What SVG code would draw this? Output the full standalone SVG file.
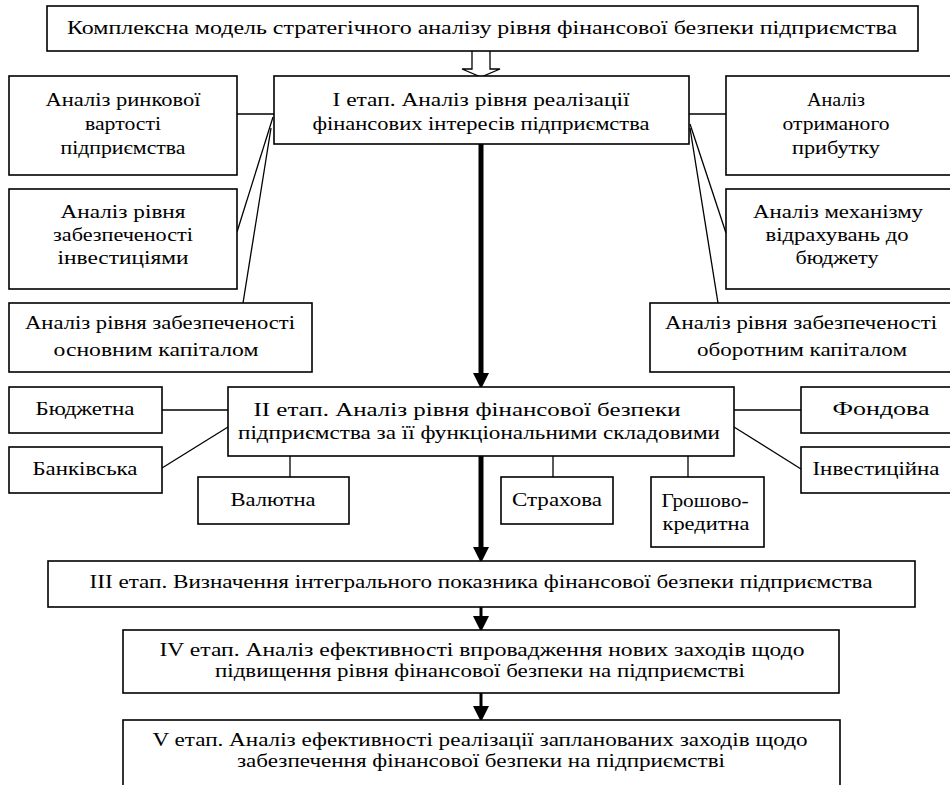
<svg xmlns="http://www.w3.org/2000/svg" width="950" height="785" viewBox="0 0 950 785">
<style>
rect.b{fill:#fff;stroke:#000;stroke-width:1.6}
text{font-family:"Liberation Serif","Times New Roman",serif;font-size:18px;fill:#000;text-anchor:middle}
.c{stroke:#000;stroke-width:1.3;fill:none}
.t{stroke:#000;stroke-width:5;fill:none}
.m{stroke:#000;stroke-width:3;fill:none}
</style>
<defs>
<marker id="ah" viewBox="0 0 16 16" markerWidth="16" markerHeight="16" refX="4" refY="8" orient="auto" markerUnits="userSpaceOnUse">
<path d="M0,0 L16,8 L0,16 z" fill="#000"/>
</marker>
</defs>
<rect width="950" height="785" fill="#fff"/>
<g id="connectors">
<polygon points="472,50 472,69 462,69 481,77 500,69 490,69 490,50" fill="#fff" stroke="#000" stroke-width="1.3"/>
<line class="c" x1="237" y1="114" x2="274" y2="114"/>
<line class="c" x1="689" y1="114" x2="726" y2="114"/>
<line class="c" x1="273" y1="117" x2="237" y2="232"/>
<line class="c" x1="271" y1="128" x2="243" y2="303"/>
<line class="c" x1="690" y1="124" x2="726" y2="233"/>
<line class="c" x1="690" y1="128" x2="718" y2="303"/>
<line class="c" x1="162" y1="410" x2="228" y2="410"/>
<line class="c" x1="162" y1="468" x2="228" y2="427"/>
<line class="c" x1="734" y1="410" x2="801" y2="410"/>
<line class="c" x1="734" y1="427" x2="801" y2="469"/>
<line class="c" x1="290" y1="456" x2="290" y2="477"/>
<line class="c" x1="553" y1="456" x2="553" y2="477"/>
<line class="c" x1="688" y1="456" x2="688" y2="477"/>
<line class="t" x1="481" y1="144" x2="481" y2="377" marker-end="url(#ah)"/>
<line class="t" x1="481" y1="456" x2="481" y2="551" marker-end="url(#ah)"/>
<line class="m" x1="481" y1="607" x2="481" y2="620" marker-end="url(#ah)"/>
<line class="m" x1="481" y1="693" x2="481" y2="710" marker-end="url(#ah)"/>
</g>
<g id="top">
<rect class="b" x="47" y="6" width="871" height="45"/>
<text x="482" y="34" textLength="830" lengthAdjust="spacingAndGlyphs">Комплексна модель стратегічного аналізу рівня фінансової безпеки підприємства</text>
</g>
<g id="stage1">
<rect class="b" x="274" y="76" width="415" height="68"/>
<text x="481" y="106" textLength="297" lengthAdjust="spacingAndGlyphs">I етап. Аналіз рівня реалізації</text>
<text x="481" y="130" textLength="337" lengthAdjust="spacingAndGlyphs">фінансових інтересів підприємства</text>
</g>
<g id="l1">
<rect class="b" x="9" y="76" width="228" height="99"/>
<text x="123" y="106" textLength="155" lengthAdjust="spacingAndGlyphs">Аналіз ринкової</text>
<text x="123" y="130" textLength="76" lengthAdjust="spacingAndGlyphs">вартості</text>
<text x="123" y="154" textLength="125" lengthAdjust="spacingAndGlyphs">підприємства</text>
</g>
<g id="r1">
<rect class="b" x="726" y="76" width="230" height="99"/>
<text x="836" y="106" textLength="58" lengthAdjust="spacingAndGlyphs">Аналіз</text>
<text x="836" y="130" textLength="107" lengthAdjust="spacingAndGlyphs">отриманого</text>
<text x="836" y="154" textLength="88" lengthAdjust="spacingAndGlyphs">прибутку</text>
</g>
<g id="l2">
<rect class="b" x="9" y="189" width="228" height="100"/>
<text x="123" y="218" textLength="125" lengthAdjust="spacingAndGlyphs">Аналіз рівня</text>
<text x="123" y="241" textLength="140" lengthAdjust="spacingAndGlyphs">забезпеченості</text>
<text x="123" y="264" textLength="131" lengthAdjust="spacingAndGlyphs">інвестиціями</text>
</g>
<g id="r2">
<rect class="b" x="726" y="189" width="230" height="100"/>
<text x="838" y="218" textLength="170" lengthAdjust="spacingAndGlyphs">Аналіз механізму</text>
<text x="837" y="241" textLength="143" lengthAdjust="spacingAndGlyphs">відрахувань до</text>
<text x="837" y="264" textLength="83" lengthAdjust="spacingAndGlyphs">бюджету</text>
</g>
<g id="l3">
<rect class="b" x="9" y="303" width="303" height="69"/>
<text x="160" y="329" textLength="270" lengthAdjust="spacingAndGlyphs">Аналіз рівня забезпеченості</text>
<text x="156" y="356" textLength="205" lengthAdjust="spacingAndGlyphs">основним капіталом</text>
</g>
<g id="r3">
<rect class="b" x="650" y="303" width="306" height="69"/>
<text x="801" y="329" textLength="272" lengthAdjust="spacingAndGlyphs">Аналіз рівня забезпеченості</text>
<text x="802" y="356" textLength="210" lengthAdjust="spacingAndGlyphs">оборотним капіталом</text>
</g>
<g id="stage2">
<rect class="b" x="228" y="387" width="506" height="69"/>
<text x="467" y="416" textLength="427" lengthAdjust="spacingAndGlyphs">II етап. Аналіз рівня фінансової безпеки</text>
<text x="479" y="439" textLength="482" lengthAdjust="spacingAndGlyphs">підприємства за її функціональними складовими</text>
</g>
<g id="budget">
<rect class="b" x="9" y="387" width="153" height="46"/>
<text x="85" y="415" textLength="99" lengthAdjust="spacingAndGlyphs">Бюджетна</text>
</g>
<g id="bank">
<rect class="b" x="9" y="447" width="153" height="46"/>
<text x="85" y="475" textLength="105" lengthAdjust="spacingAndGlyphs">Банківська</text>
</g>
<g id="currency">
<rect class="b" x="198" y="477" width="151" height="47"/>
<text x="273" y="506" textLength="85" lengthAdjust="spacingAndGlyphs">Валютна</text>
</g>
<g id="insurance">
<rect class="b" x="501" y="477" width="112" height="47"/>
<text x="557" y="506" textLength="90" lengthAdjust="spacingAndGlyphs">Страхова</text>
</g>
<g id="credit">
<rect class="b" x="651" y="477" width="113" height="70"/>
<text x="705" y="507" textLength="87" lengthAdjust="spacingAndGlyphs">Грошово-</text>
<text x="706" y="530" textLength="87" lengthAdjust="spacingAndGlyphs">кредитна</text>
</g>
<g id="stock">
<rect class="b" x="801" y="387" width="155" height="46"/>
<text x="881" y="415" textLength="97" lengthAdjust="spacingAndGlyphs">Фондова</text>
</g>
<g id="invest">
<rect class="b" x="801" y="447" width="155" height="46"/>
<text x="876" y="475" textLength="127" lengthAdjust="spacingAndGlyphs">Інвестиційна</text>
</g>
<g id="stage3">
<rect class="b" x="48" y="561" width="867" height="46"/>
<text x="481" y="588" textLength="783" lengthAdjust="spacingAndGlyphs">III етап. Визначення інтегрального показника фінансової безпеки підприємства</text>
</g>
<g id="stage4">
<rect class="b" x="123" y="630" width="716" height="63"/>
<text x="482" y="656" textLength="645" lengthAdjust="spacingAndGlyphs">IV етап. Аналіз ефективності впровадження нових заходів щодо</text>
<text x="480" y="677" textLength="530" lengthAdjust="spacingAndGlyphs">підвищення рівня фінансової безпеки на підприємстві</text>
</g>
<g id="stage5">
<rect class="b" x="123" y="720" width="717" height="75"/>
<text x="480" y="746" textLength="655" lengthAdjust="spacingAndGlyphs">V етап. Аналіз ефективності реалізації запланованих заходів щодо</text>
<text x="481" y="767" textLength="488" lengthAdjust="spacingAndGlyphs">забезпечення фінансової безпеки на підприємстві</text>
</g>
</svg>
